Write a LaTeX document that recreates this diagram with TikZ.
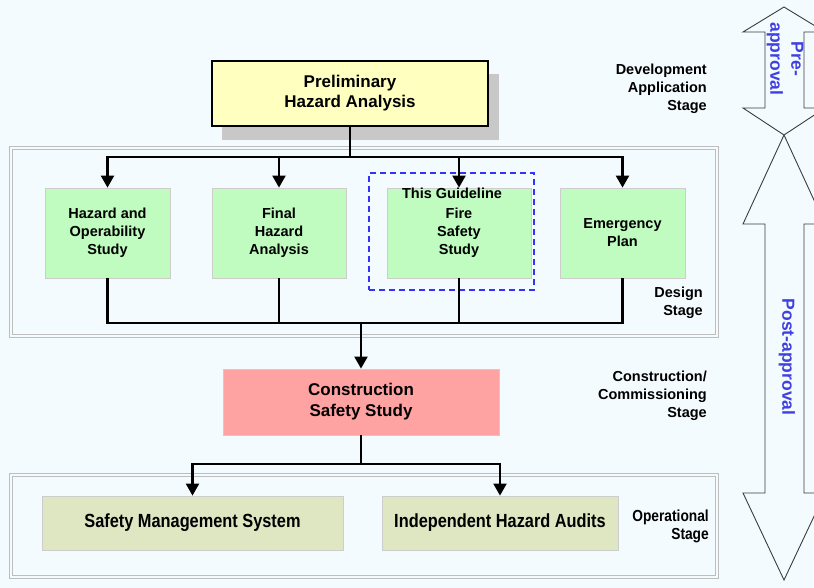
\documentclass[tikz,border=0pt]{standalone}
\usepackage{fontspec}
\setmainfont{Liberation Sans}
\newfontfamily\narrowsans[FakeStretch=0.86]{Liberation Sans}
\usetikzlibrary{arrows.meta}

\definecolor{bgcol}{RGB}{244,251,254}
\definecolor{framegray}{RGB}{190,190,190}
\definecolor{boxedge}{RGB}{205,205,205}
\definecolor{phafill}{RGB}{255,255,192}
\definecolor{shadowgray}{RGB}{200,200,200}
\definecolor{greenfill}{RGB}{192,252,192}
\definecolor{pinkfill}{RGB}{255,162,162}
\definecolor{olivefill}{RGB}{222,230,194}
\definecolor{guideblue}{RGB}{50,50,250}
\definecolor{labelblue}{RGB}{64,64,224}
\definecolor{outline}{RGB}{60,60,60}

\tikzset{
  stageframe/.style={draw=framegray, line width=0.9pt, double=bgcol, double distance=1.6pt},
  phabox/.style={draw=black, line width=1.3pt, fill=phafill, inner sep=0pt, align=center,
    font=\bfseries\fontsize{17}{20}\selectfont},
  studybox/.style={draw=boxedge, line width=0.8pt, fill=greenfill, inner sep=0pt, align=center,
    minimum height=90pt, font=\bfseries\fontsize{14.5}{18}\selectfont},
  constbox/.style={draw=boxedge, line width=0.8pt, fill=pinkfill, inner sep=0pt, align=center,
    font=\bfseries\fontsize{17}{21}\selectfont},
  opbox/.style={draw=boxedge, line width=0.8pt, fill=olivefill, inner sep=0pt, align=center,
    minimum height=54pt, font=\narrowsans\bfseries\fontsize{19}{22}\selectfont},
  stagelabel/.style={anchor=east, align=right, inner sep=0pt,
    font=\bfseries\fontsize{14.5}{18}\selectfont},
  conn/.style={draw=black, line width=2.2pt},
  arrowconn/.style={conn, -{Triangle[width=13pt,length=12pt]}},
  guidebox/.style={draw=guideblue, line width=1.4pt, dash pattern=on 6pt off 4pt},
  bigarrow/.style={draw=outline, line width=0.9pt, fill=bgcol, line join=miter},
  phaselabel/.style={text=labelblue, rotate=-90, align=center, inner sep=0pt,
    font=\bfseries\fontsize{17.5}{21}\selectfont}
}

\begin{document}
\begin{tikzpicture}[x=1pt, y=-1pt]
  % canvas
  \fill[bgcol] (0,0) rectangle (814,588);
  \useasboundingbox (0,0) rectangle (814,588);

  % stage frames
  \draw[stageframe] (11,148) rectangle (717,336);
  \draw[stageframe] (11,475) rectangle (717,577);

  % preliminary hazard analysis with its shadow
  \fill[shadowgray] (222,74) rectangle (499,140);
  \node[phabox, minimum width=276pt, minimum height=65pt] (pha) at (350,93.5)
    {Preliminary\\Hazard Analysis};

  % design stage studies
  \node[studybox, minimum width=125pt] (hazop) at (107.5,233) {Hazard and\\Operability\\Study};
  \node[studybox, minimum width=134pt] (fha)   at (279,233)   {Final\\Hazard\\Analysis};
  \node[studybox, minimum width=144pt] (fire)  at (459,233)   {Fire\\Safety\\Study};
  \node[studybox, minimum width=125pt] (emer)  at (622.5,233) {Emergency\\Plan};

  % the study covered by this guideline
  \node[guidebox, minimum width=165pt, minimum height=117pt, inner sep=0pt] (guide) at (451.5,231.5) {};
  \node[font=\bfseries\fontsize{14.5}{18}\selectfont, inner sep=0pt] (guidetext) at (452,193) {This Guideline};

  % construction and operation
  \node[constbox, minimum width=276pt, minimum height=66pt] (cons) at (361,402)
    {Construction\\Safety Study};
  \node[opbox, minimum width=301pt] (sms) at (192.5,523) {Safety Management System};
  \node[opbox, minimum width=236pt] (iha) at (500,523) {Independent Hazard Audits};

  % stage labels
  \node[stagelabel] (devlabel) at (707,89) {Development\\Application\\Stage};
  \node[stagelabel] (deslabel) at (703,302.5) {Design\\Stage};
  \node[stagelabel] (conlabel) at (707,396) {Construction/\\Commissioning\\Stage};
  \node[stagelabel, font=\narrowsans\bfseries\fontsize{16}{18}\selectfont] (oplabel) at (709,526)
    {Operational\\Stage};

  % bus points
  \coordinate (topbus) at (350,157);
  \coordinate (midbus) at (361,323);
  \coordinate (lowbus) at (361,464);

  % connectors
  \draw[conn] (pha.south) -- (topbus);
  \foreach \n in {hazop,fha,fire,emer}
    \draw[arrowconn] (topbus) -| (\n.north);
  \foreach \n in {hazop,fha,fire,emer}
    \draw[conn] (\n.south) |- (midbus);
  \draw[arrowconn] (midbus) -- (cons.north);
  \draw[conn] (cons.south) -- (lowbus);
  \draw[arrowconn] (lowbus) -| (sms.north);
  \draw[arrowconn] (lowbus) -| (iha.north);

  % approval phase arrows
  \draw[bigarrow] (784,7) -- (825,32) -- (804,32) -- (804,108) -- (825,108) -- (784,135)
    -- (743,108) -- (765,108) -- (765,32) -- (743,32) -- cycle;
  \draw[bigarrow] (784,135) -- (825,224) -- (804,224) -- (804,493) -- (825,493) -- (784,580)
    -- (743,493) -- (765,493) -- (765,224) -- (743,224) -- cycle;
  \node[phaselabel] (prelabel) at (785,59) {Pre-\\approval};
  \node[phaselabel] (postlabel) at (787,357) {Post-approval};
\end{tikzpicture}
\end{document}
